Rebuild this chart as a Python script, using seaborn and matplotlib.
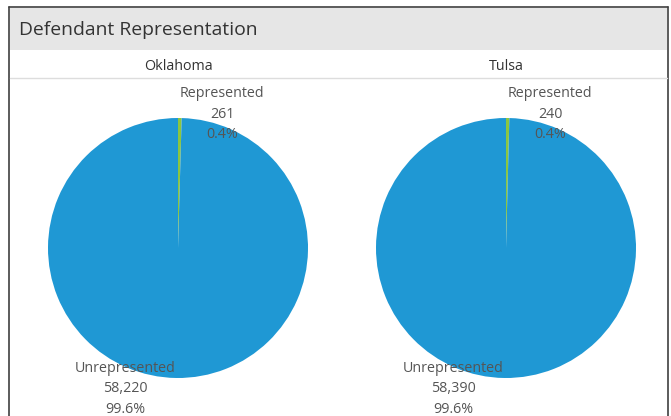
import matplotlib
matplotlib.use("Agg")
import matplotlib.pyplot as plt
import seaborn as sns
import pandas as pd

regions = ["Oklahoma", "Tulsa"]
categories = ["Represented", "Unrepresented"]
represented = [261, 240]
unrepresented = [58220, 58390]
pct_represented = ["0.4%", "0.4%"]
pct_unrepresented = ["99.6%", "99.6%"]

df = pd.DataFrame({
    "region": regions * 2,
    "category": ["Represented"] * 2 + ["Unrepresented"] * 2,
    "count": represented + unrepresented,
    "pct": pct_represented + pct_unrepresented,
})

sns.set_theme(style="white")
plt.rcParams["font.family"] = ["Open Sans", "DejaVu Sans"]

W, H = 671, 416
fig = plt.figure(figsize=(W / 100, H / 100), dpi=100)
fig.patch.set_facecolor("white")

palette = {"Represented": "#8cc63f", "Unrepresented": "#1f98d4"}
text_col = "#555555"


def px(x, y):
    return x / W, 1 - y / H


# panel frame and title bar
frame = fig.add_axes([0, 0, 1, 1], zorder=-1)
frame.set_xlim(0, W)
frame.set_ylim(H, 0)
frame.axis("off")
frame.add_patch(plt.Rectangle((10, 8), 657, 42, color="#e6e6e6", lw=0))
frame.plot([9, 9], [7, H], color="#404040", lw=1.2)
frame.plot([9, 668], [7, 7], color="#404040", lw=1.2)
frame.plot([668, 668], [7, H], color="#404040", lw=1.2)
frame.plot([10, 667], [77.5, 77.5], color="#dddddd", lw=1)
frame.text(19, 30, "Defendant Representation", fontsize=13.9, color="#333333",
           va="center", ha="left")

# overlay for slice labels, drawn above the pies
overlay = fig.add_axes([0, 0, 1, 1], zorder=10)
overlay.set_xlim(0, W)
overlay.set_ylim(H, 0)
overlay.axis("off")
overlay.patch.set_alpha(0)

centers = [(178, 248), (506, 248)]
radius = 130

for i, region in enumerate(regions):
    cx, cy = centers[i]
    sub = df[df.region == region].set_index("category").loc[categories]
    frame.text(cx, 66, region, fontsize=10.3, color="#333333", ha="center", va="center")

    left, bottom = px(cx - radius, cy + radius)
    ax = fig.add_axes([left, bottom, 2 * radius / W, 2 * radius / H])
    ax.pie(sub["count"], colors=[palette[c] for c in categories],
           startangle=90, counterclock=False, radius=1,
           wedgeprops=dict(linewidth=0))
    ax.set_xlim(-1, 1)
    ax.set_ylim(-1, 1)
    ax.set_aspect("auto")
    ax.axis("off")

    r = sub.loc["Represented"]
    u = sub.loc["Unrepresented"]
    overlay.text(cx + 44, 114, f"Represented\n{r['count']:,}\n{r['pct']}",
                 fontsize=10.3, color=text_col, ha="center", va="center",
                 linespacing=1.5)
    overlay.text(cx - 53, 389, f"Unrepresented\n{u['count']:,}\n{u['pct']}",
                 fontsize=10.3, color=text_col, ha="center", va="center",
                 linespacing=1.5)

fig.savefig("out.png", dpi=100)
